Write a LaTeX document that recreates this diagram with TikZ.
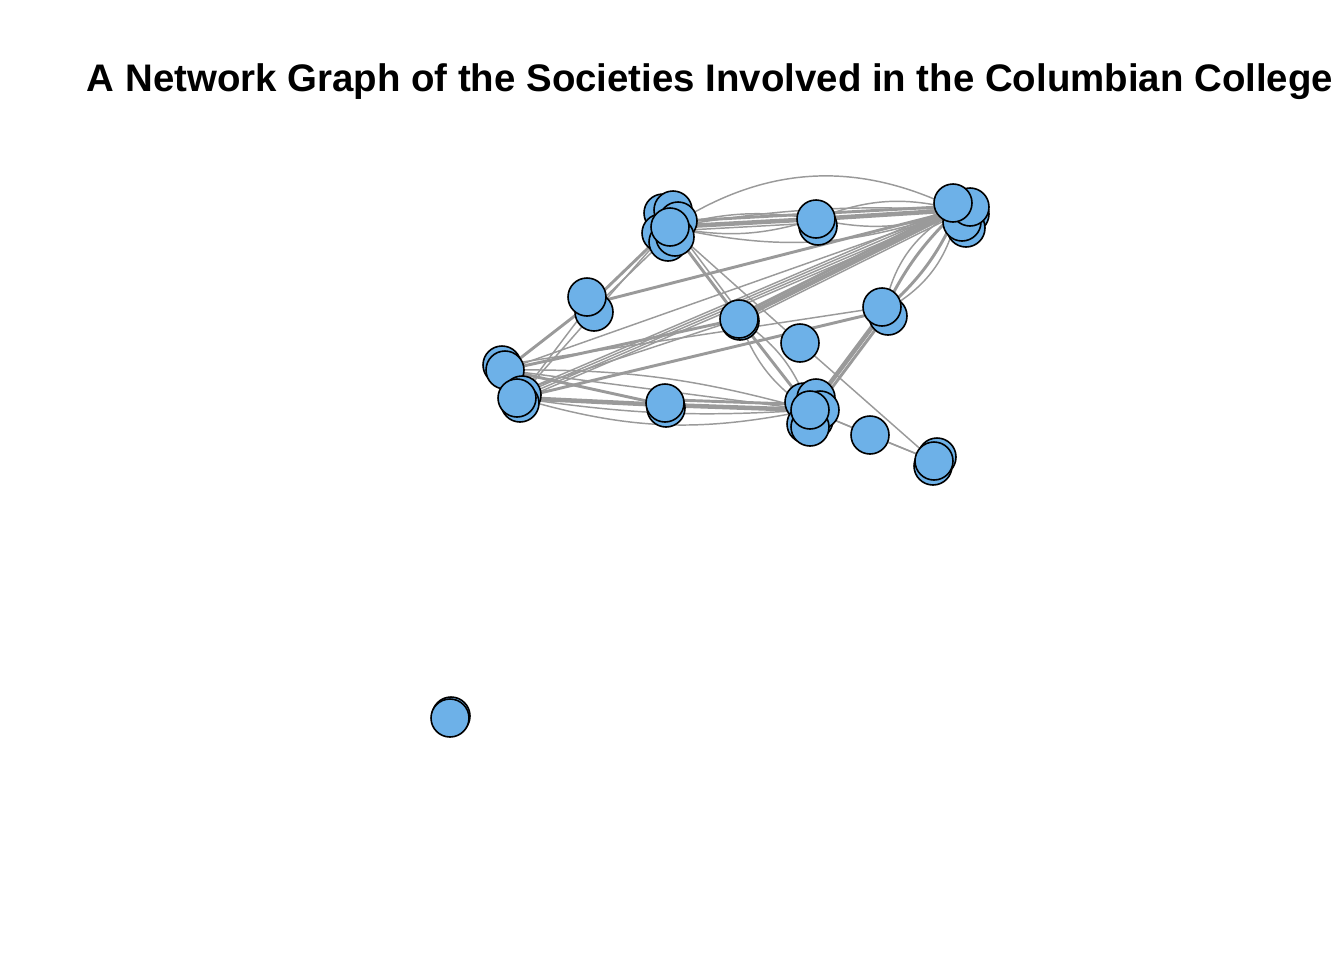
\documentclass[tikz,border=0pt]{standalone}
\usepackage{fontspec}
\setmainfont{Liberation Sans}
\definecolor{vblue}{HTML}{6DB1E8}
\definecolor{egray}{HTML}{9A9A9A}
\begin{document}
\begin{tikzpicture}[x=0.75pt,y=-0.75pt,
  v/.style={circle,draw=black,fill=vblue,line width=1.2pt,minimum size=28.5pt,inner sep=0pt},
  e/.style={draw=egray,line width=1.1pt},
  ew/.style={draw=egray,line width=2.2pt},
  ewx/.style={draw=egray,line width=3.4pt}]
\useasboundingbox (0,0) rectangle (1344,960);
\node[font=\bfseries\fontsize{28.8pt}{34pt}\selectfont] (title) at (710,82) {A Network Graph of the Societies Involved in the Columbian College};
% cluster centres
\coordinate (A) at (670,227);
\coordinate (B) at (816,219);
\coordinate (C) at (958,210);
\coordinate (D) at (590,304);
\coordinate (E) at (739,319);
\coordinate (F) at (800,343);
\coordinate (G) at (884,311);
\coordinate (H1) at (505,370);
\coordinate (H2) at (519,398);
\coordinate (I) at (665,405);
\coordinate (J) at (810,410);
\coordinate (K) at (870,435);
\coordinate (L) at (934,461);
\coordinate (M) at (450,718);
% edges
\draw[ewx] (A) -- (B);
\draw[ew] ([yshift=4]A) -- ([yshift=4]B);
\draw[e] ([yshift=-3]A) -- ([yshift=-3]B);
\draw[e] (A) to[bend left=12] (B);
\draw[e] (A) to[bend right=14] (B);
\draw[ewx] (B) -- (C);
\draw[ew] ([yshift=4]B) -- ([yshift=3]C);
\draw[e] (B) to[bend left=18] (C);
\draw[e] (B) to[bend right=16] (C);
\draw[e] (A) to[bend left=30] (C);
\draw[e] (A) to[bend right=16] (C);
\draw[e] (A) to[bend left=6] (C);
\draw[ew] (A) -- (D);
\draw[e] ([xshift=6]A) -- ([xshift=6]D);
\draw[ew] (D) -- (H1);
\draw[e] (A) -- (H2);
\draw[e] (D) -- (H2);
\draw[ew] (D) -- (C);
\draw[ew] (A) -- (E);
\draw[e] ([xshift=4]A) -- ([xshift=4]E);
\draw[e] (A) -- (F);
\draw[e] (F) -- (L);
\draw[ewx] (E) -- (C);
\draw[ew] ([yshift=3]E) -- ([yshift=3]C);
\draw[e] ([yshift=-3]E) -- ([yshift=-3]C);
\foreach \s in {-2,0,2,4} \draw[e] ([yshift=\s]H2) -- ([yshift=\s]C);
\draw[e] (H1) -- (C);
\draw[ew] (H1) -- (E);
\draw[e] ([yshift=5]H2) -- (E);
\draw[ew] (H2) -- (G);
\draw[e] ([yshift=4]H1) -- ([yshift=3]G);
\draw[ewx] (H2) -- (I);
\draw[ew] (H1) -- (I);
\draw[ewx] (I) -- (J);
\draw[ew] ([yshift=4]I) -- ([yshift=4]J);
\draw[e] (H1) -- (J);
\draw[e] (H2) to[bend right=14] (J);
\draw[e] (H2) to[bend right=6] (J);
\draw[e] (H1) to[bend left=8] (J);
\draw[ew] (E) -- (J);
\draw[e] (E) to[bend left=18] (J);
\draw[e] (E) to[bend right=18] (J);
\draw[ew] (G) to[bend left=10] (C);
\draw[ew] (G) to[bend right=12] (C);
\draw[e] (G) to[bend left=25] (C);
\draw[e] (G) to[bend right=25] (C);
\draw[ewx] (G) -- (J);
\draw[ew] ([xshift=4]G) -- ([xshift=4]J);
\draw[e] (J) -- (K);
\draw[e] (K) -- (L);
\draw[e] (J) -- (L);
% vertices
\foreach \p/\n in {{(663,213)}/a1,{(673,210)}/a2,{(678,221)}/a3,{(661,233)}/a4,{(668,242)}/a5,{(675,237)}/a6}
  \node[v] (\n) at \p {};
\node[v] (a0) at (A) {};
\node[v] (b1) at (818,226) {};
\node[v] (b0) at (B) {};
\foreach \p/\n in {{(970,214)}/c1,{(966,228)}/c2,{(962,222)}/c3,{(970,207)}/c4}
  \node[v] (\n) at \p {};
\node[v] (c0) at (953,203) {};
\node[v] (d2) at (594,312) {};
\node[v] (d0) at (587,297) {};
\node[v] (e1) at (740,321) {};
\node[v] (e0) at (E) {};
\node[v] (f0) at (F) {};
\node[v] (g1) at (888,316) {};
\node[v] (g0) at (882,307) {};
\node[v] (h1) at (502,365) {};
\node[v] (h0) at (H1) {};
\node[v] (h3) at (522,395) {};
\node[v] (h4) at (520,403) {};
\node[v] (h2) at (517,398) {};
\node[v] (i1) at (666,408) {};
\node[v] (i0) at (665,403) {};
\foreach \p/\n in {{(804,402)}/j1,{(816,398)}/j2,{(814,420)}/j3,{(806,424)}/j4,{(820,410)}/j5,{(810,427)}/j6}
  \node[v] (\n) at \p {};
\node[v] (j0) at (J) {};
\node[v] (k0) at (K) {};
\node[v] (l1) at (937,457) {};
\node[v] (l2) at (933,466) {};
\node[v] (l0) at (L) {};
\node[v] (m1) at (451,716) {};
\node[v] (m0) at (M) {};
\end{tikzpicture}
\end{document}
